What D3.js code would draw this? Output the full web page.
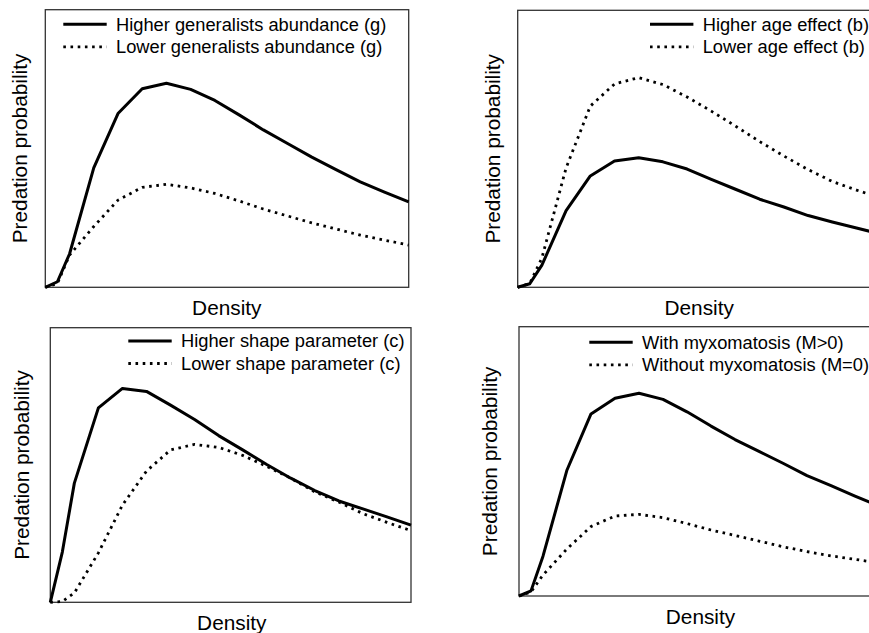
<!DOCTYPE html>
<html>
<head>
<meta charset="utf-8">
<script src="https://cdn.jsdelivr.net/npm/d3@7"></script>
<style>
  body { margin: 0; background: #fff; }
  text { font-family: "Liberation Sans", Arial, sans-serif; fill: #000; }
</style>
</head>
<body>
<div id="chart"></div>
<script>
// density steps (x) shared by every panel
var density = [0, 0.5, 1, 2, 3, 4, 5, 6, 7, 8, 9, 10, 11, 12, 13, 14, 15];

// predation probability
var gHigh = [0, 0.02, 0.12, 0.43, 0.626, 0.715, 0.735, 0.713, 0.673, 0.621, 0.567, 0.518, 0.469, 0.424, 0.38, 0.343, 0.308];
var gLow = [0, 0.014, 0.116, 0.219, 0.314, 0.36, 0.371, 0.358, 0.338, 0.311, 0.282, 0.257, 0.232, 0.21, 0.188, 0.17, 0.152];
var bHigh = [0, 0.013, 0.08, 0.277, 0.402, 0.456, 0.468, 0.453, 0.427, 0.39, 0.354, 0.318, 0.29, 0.259, 0.236, 0.214, 0.192];
var bLow = [0, 0.014, 0.106, 0.431, 0.654, 0.734, 0.757, 0.732, 0.687, 0.636, 0.582, 0.526, 0.474, 0.425, 0.382, 0.351, 0.322];
var cHigh = [0, 0.183, 0.434, 0.708, 0.779, 0.768, 0.718, 0.666, 0.607, 0.555, 0.502, 0.452, 0.407, 0.369, 0.34, 0.311, 0.281];
var cLow = [0, 0.003, 0.034, 0.18, 0.354, 0.478, 0.555, 0.575, 0.564, 0.535, 0.495, 0.452, 0.402, 0.365, 0.323, 0.291, 0.261];
var mWith = [0, 0.019, 0.148, 0.468, 0.676, 0.734, 0.753, 0.73, 0.684, 0.631, 0.581, 0.537, 0.493, 0.447, 0.41, 0.371, 0.334];
var mWithout = [0, 0.015, 0.078, 0.175, 0.258, 0.297, 0.303, 0.291, 0.269, 0.245, 0.225, 0.204, 0.183, 0.165, 0.149, 0.136, 0.123];

// legend labels
var gLabels = ['Higher generalists abundance (g)', 'Lower generalists abundance (g)'];
var bLabels = ['Higher age effect (b)', 'Lower age effect (b)'];
var cLabels = ['Higher shape parameter (c)', 'Lower shape parameter (c)'];
var mLabels = ['With myxomatosis (M>0)', 'Without myxomatosis (M=0)'];

var xTitle = 'Density';
var yTitle = 'Predation probability';

var width = 869;
var height = 633;

var panels = [
  { x: 45.3, y: 9.7, w: 363.4, h: 277.6, series: [gHigh, gLow], labels: gLabels, lx: 63.3, ly: 24.3, yt: 27 },
  { x: 517.7, y: 10.3, w: 363, h: 277, series: [bHigh, bLow], labels: bLabels, lx: 650, ly: 24.3, yt: 500 },
  { x: 50.3, y: 327.7, w: 360.7, h: 274.6, series: [cHigh, cLow], labels: cLabels, lx: 128.3, ly: 341, yt: 29 },
  { x: 519, y: 326.7, w: 360, h: 269.3, series: [mWith, mWithout], labels: mLabels, lx: 589.3, ly: 342.3, yt: 497 }
];

var svg = d3.select('#chart').append('svg')
  .attr('width', width)
  .attr('height', height);

// solid first, dotted second
var dashes = [null, '2.6,4.6'];

panels.forEach(function(p) {
  var x = d3.scaleLinear().domain([0, 15]).range([p.x, p.x + p.w]);
  var y = d3.scaleLinear().domain([0, 1]).range([p.y + p.h, p.y]);

  var line = d3.line()
    .x(function(d, i) { return x(density[i]); })
    .y(function(d) { return y(d); });

  // frame
  svg.append('rect')
    .attr('x', p.x).attr('y', p.y)
    .attr('width', p.w).attr('height', p.h)
    .attr('fill', 'none')
    .attr('stroke', '#333')
    .attr('stroke-width', 1.3);

  p.series.forEach(function(s, k) {
    svg.append('path')
      .datum(s)
      .attr('d', line)
      .attr('fill', 'none')
      .attr('stroke', '#000')
      .attr('stroke-width', k === 0 ? 3 : 2.8)
      .attr('stroke-linejoin', 'round')
      .attr('stroke-dasharray', dashes[k]);
  });

  // legend
  p.labels.forEach(function(lab, k) {
    var ly = p.ly + k * 22.5;
    svg.append('line')
      .attr('x1', p.lx).attr('x2', p.lx + 43.4)
      .attr('y1', ly).attr('y2', ly)
      .attr('stroke', '#000')
      .attr('stroke-width', k === 0 ? 3 : 2.8)
      .attr('stroke-dasharray', dashes[k]);
    svg.append('text')
      .attr('x', p.lx + 52.7)
      .attr('y', ly + 6.4)
      .attr('font-size', 18.3)
      .text(lab);
  });

  // axis titles
  svg.append('text')
    .attr('x', p.x + 181.5)
    .attr('y', p.y + p.h + 28)
    .attr('text-anchor', 'middle')
    .attr('font-size', 20.8)
    .text(xTitle);

  svg.append('text')
    .attr('transform', 'translate(' + p.yt + ',' + (p.y + p.h / 2) + ') rotate(-90)')
    .attr('text-anchor', 'middle')
    .attr('font-size', 20.8)
    .text(yTitle);
});
</script>
</body>
</html>
